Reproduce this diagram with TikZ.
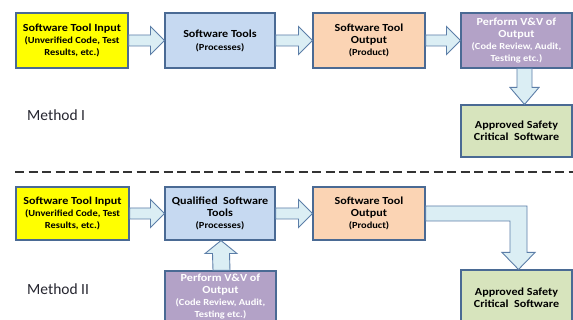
\documentclass[tikz,border=0pt]{standalone}
\usepackage{fontspec}
\setmainfont{Carlito}
\newfontfamily\boxfont[FakeStretch=1.12]{Carlito}
\usetikzlibrary{calc}

\definecolor{edgeblue}{HTML}{4A6A94}
\definecolor{arrowfill}{HTML}{DBEEF4}
\definecolor{arrowedge}{HTML}{5C7EA8}
\definecolor{inputyellow}{HTML}{FFFF00}
\definecolor{toolblue}{HTML}{C6D9F1}
\definecolor{productpeach}{HTML}{FBD4B4}
\definecolor{vvpurple}{HTML}{B3A2C7}
\definecolor{safegreen}{HTML}{D7E4BD}
\definecolor{labelgray}{HTML}{262630}

\newcommand{\boxtitle}{\fontsize{10.8}{13.5}\selectfont}
\newcommand{\boxsub}{\fontsize{9.3}{12}\selectfont}

% horizontal block arrow from the east side of #1 to the west side of #2
\newcommand{\harrow}[2]{%
  \draw[blockarrow] ($(#1.east)+(0,-5.5)$) -- ($(#2.west)+(-14,-5.5)$)
    -- ($(#2.west)+(-14,-14)$) -- (#2.west) -- ($(#2.west)+(-14,14)$)
    -- ($(#2.west)+(-14,5.5)$) -- ($(#1.east)+(0,5.5)$) -- cycle;}

\begin{document}
\begin{tikzpicture}[x=1pt,y=-1pt,
  box/.style={draw=edgeblue, line width=1.1pt, rectangle, align=center,
    minimum height=55pt, inner sep=0.5pt, font=\boxfont\bfseries},
  blockarrow/.style={draw=arrowedge, fill=arrowfill, line width=0.9pt,
    line join=miter},
  methodlabel/.style={anchor=base west, inner sep=0pt,
    font=\fontsize{15.5}{18}\selectfont, text=labelgray}]

\clip (0,0) rectangle (573,320);
\fill[white] (0,0) rectangle (573,320);

% ---- Method I ----
\node[box, fill=inputyellow, minimum width=112pt] (a1) at (72,40.5)
  {\boxtitle Software Tool Input\\ \boxsub (Unverified Code, Test\\ \boxsub Results, etc.)};
\node[box, fill=toolblue, minimum width=110pt] (b1) at (220,40.5)
  {\boxtitle Software Tools\\[1pt] \boxsub (Processes)};
\node[box, fill=productpeach, minimum width=112pt] (c1) at (369,40.5)
  {\boxtitle Software Tool\\ \boxtitle Output\\ \boxsub (Product)};
\node[box, fill=vvpurple, minimum width=111pt, text=white] (d1) at (516.5,40.5)
  {\boxtitle Perform V\&V of\\ \boxtitle Output\\ \boxsub (Code Review, Audit,\\ \boxsub Testing etc.)};
\node[box, fill=safegreen, minimum width=111pt, minimum height=52pt] (e1) at (516.5,131)
  {\boxtitle Approved Safety\\ \boxtitle Critical\ \ Software};

\node[methodlabel] (m1) at (27,121) {Method I};

% ---- separator ----
\draw[line width=1.3pt, black!80, dash pattern=on 9pt off 4.5pt] (15,172) -- (573,172);

% ---- Method II ----
\node[box, fill=inputyellow, minimum width=113pt, minimum height=53pt] (a2) at (72.5,213.5)
  {\boxtitle Software Tool Input\\ \boxsub (Unverified Code, Test\\ \boxsub Results, etc.)};
\node[box, fill=toolblue, minimum width=110pt, minimum height=53pt] (b2) at (220,213.5)
  {\boxtitle Qualified\ \ Software\\ \boxtitle Tools\\ \boxsub (Processes)};
\node[box, fill=productpeach, minimum width=112pt, minimum height=53pt] (c2) at (369,213.5)
  {\boxtitle Software Tool\\ \boxtitle Output\\ \boxsub (Product)};
\node[box, fill=vvpurple, minimum width=111pt, minimum height=51pt, text=white] (d2) at (220.5,296.5)
  {\boxtitle Perform V\&V of\\ \boxtitle Output\\ \boxsub (Code Review, Audit,\\ \boxsub Testing etc.)};
\node[box, fill=safegreen, minimum width=111pt] (e2) at (516.5,297.5)
  {\boxtitle Approved Safety\\ \boxtitle Critical\ \ Software};

\node[methodlabel] (m2) at (27,295) {Method II};

% ---- block arrows, Method I ----
\harrow{a1}{b1}
\harrow{b1}{c1}
\harrow{c1}{d1}
\draw[blockarrow] ($(d1.south)+(0.5,0)$) -- ($(e1.north)+(0.5,-17)$)
  -- ($(e1.north)+(-6.5,-17)$) -- ($(e1.north)+(8,0)$)
  -- ($(e1.north)+(22.5,-17)$) -- ($(e1.north)+(15.5,-17)$)
  -- ($(d1.south)+(15.5,0)$) -- cycle;

% ---- block arrows, Method II ----
\harrow{a2}{b2}
\harrow{b2}{c2}
\draw[blockarrow] ($(d2.north)+(-7.5,0)$) -- ($(b2.south)+(-7.5,13)$)
  -- ($(b2.south)+(-15,13)$) -- ($(b2.south)+(1,0)$)
  -- ($(b2.south)+(17,13)$) -- ($(b2.south)+(9.5,13)$)
  -- ($(d2.north)+(9.5,0)$) -- cycle;
\draw[blockarrow] ($(c2.east)+(0,-7.5)$) -- ($(c2.east -| e2.north)+(10.5,-7.5)$)
  -- ($(e2.north)+(10.5,-17)$) -- ($(e2.north)+(18.5,-17)$)
  -- ($(e2.north)+(2,0)$) -- ($(e2.north)+(-14.5,-17)$)
  -- ($(e2.north)+(-6.5,-17)$) -- ($(c2.east -| e2.north)+(-6.5,7.5)$)
  -- ($(c2.east)+(0,7.5)$) -- cycle;

\end{tikzpicture}
\end{document}
